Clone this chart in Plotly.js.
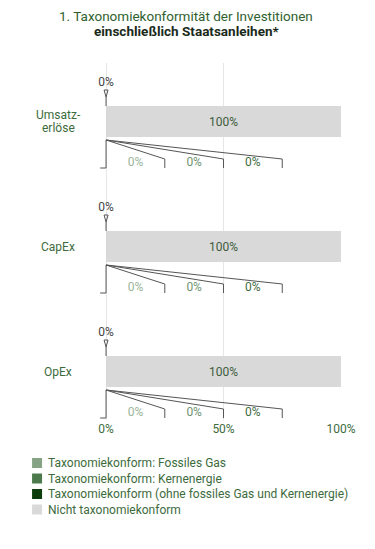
<!DOCTYPE html>
<html>
<head>
<meta charset="utf-8">
<script src="https://cdn.plot.ly/plotly-3.0.1.min.js"></script>
<style>html,body{margin:0;padding:0;background:#fff;}#chart{width:375px;height:549px;}</style>
</head>
<body>
<div id="chart"></div>
<script>
// ---- Data ----
const categories = ['Umsatz-\nerlöse', 'CapEx', 'OpEx'];
const fossilGas = [0, 0, 0];          // Taxonomiekonform: Fossiles Gas
const nuclear = [0, 0, 0];            // Taxonomiekonform: Kernenergie
const otherAligned = [0, 0, 0];       // Taxonomiekonform (ohne fossiles Gas und Kernenergie)
const notAligned = [1, 1, 1];         // Nicht taxonomiekonform
const xTickVals = [0, 0.5, 1];
const xTickText = ['0%', '50%', '100%'];
const seriesNames = [
  'Taxonomiekonform: Fossiles Gas',
  'Taxonomiekonform: Kernenergie',
  'Taxonomiekonform (ohne fossiles Gas und Kernenergie)',
  'Nicht taxonomiekonform'
];
const titleLine1 = '1. Taxonomiekonformität der Investitionen';
const titleLine2 = 'einschließlich Staatsanleihen*';

// ---- Styles / layout ----
const FONT = 'Roboto, "Liberation Sans", Arial, sans-serif';
const GREEN = '#3d6b3d';
const colors = ['#86a386', '#4d7a4d', '#0d3d0d', '#d9d9d9'];
const subLabelColors = ['#9ab59a', '#6f946f', '#3f6b3f'];
const LINE = '#555555';
const pct = v => Math.round(v * 100) + '%';

const X0PX = 106, X1PX = 341, XMIN = -0.03;
const L = X0PX + XMIN * (X1PX - X0PX);
const W = (X1PX - X0PX) * (1 - XMIN);
const T = 63, B = 420, H = B - T;
const UNIT = 125; // px per category step
const CENTER0 = 121.5;
const yTop = (T - CENTER0) / UNIT, yBot = (B - CENTER0) / UNIT;
const u = px => px / UNIT;
const pxX = px => (px - L) / W;
const pxY = py => (B - py) / H;

const yIdx = categories.map((c, i) => i);
const alignedTotal = yIdx.map(i => fossilGas[i] + nuclear[i] + otherAligned[i]);

const traces = [];
// main bars
traces.push({
  type: 'bar', orientation: 'h', y: yIdx, x: alignedTotal, base: yIdx.map(() => 0),
  width: u(31), marker: {color: colors[2]}, textposition: 'none', hoverinfo: 'skip', showlegend: false
});
traces.push({
  type: 'bar', orientation: 'h', y: yIdx, x: notAligned, base: alignedTotal,
  width: u(31), marker: {color: colors[3]},
  text: notAligned.map(pct), textposition: 'inside', insidetextanchor: 'middle',
  textfont: {family: FONT, size: 12, color: '#3d5c3d'}, hoverinfo: 'skip', showlegend: false
});
// breakdown sub-bars (segments 0-25%, 25-50%, 50-75%)
const segStart = [0, 0.25, 0.5];
const subSeries = [fossilGas, nuclear, otherAligned];
subSeries.forEach((s, k) => {
  traces.push({
    type: 'bar', orientation: 'h', y: yIdx.map(i => i + u(42)), x: s.map(v => v * 0.25),
    base: yIdx.map(() => segStart[k]), width: u(9), marker: {color: colors[k]},
    textposition: 'none', hoverinfo: 'skip', showlegend: false
  });
  traces.push({
    type: 'scatter', mode: 'text', y: yIdx.map(i => i + u(41.5)), x: yIdx.map(() => segStart[k] + 0.125),
    text: s.map(pct), textfont: {family: FONT, size: 12, color: subLabelColors[k]},
    hoverinfo: 'skip', showlegend: false, cliponaxis: false
  });
});
// connectors
const cx = [], cy = [];
yIdx.forEach(i => {
  const x0 = alignedTotal[i];
  [0.25, 0.5, 0.75].forEach(e => {
    cx.push(x0, e, e, null); cy.push(i + u(18.5), i + u(37.5), i + u(46.5), null);
  });
  cx.push(x0, x0, null); cy.push(i + u(18.5), i + u(46.5), null);
  cx.push(x0 - 0.025, x0, null); cy.push(i + u(46.5), i + u(46.5), null);
  // callout wedge above the bar
  const d = 2 / 235;
  cx.push(x0 - d, x0, x0 + d, x0 - d, null); cy.push(i + u(-31.5), i + u(-24.5), i + u(-31.5), i + u(-31.5), null);
  cx.push(x0, x0, null); cy.push(i + u(-24.5), i + u(-15.5), null);
});
traces.push({
  type: 'scatter', mode: 'lines', x: cx, y: cy, line: {color: LINE, width: 1},
  hoverinfo: 'skip', showlegend: false
});
// aligned total label above wedge
traces.push({
  type: 'scatter', mode: 'text', x: alignedTotal, y: yIdx.map(i => i + u(-38.5)),
  text: alignedTotal.map(pct), textfont: {family: FONT, size: 12, color: '#444444'},
  hoverinfo: 'skip', showlegend: false, cliponaxis: false
});

const annotations = [
  {xref: 'paper', yref: 'paper', x: pxX(186), y: pxY(16), text: titleLine1, showarrow: false,
   xanchor: 'center', yanchor: 'middle', font: {family: FONT, size: 13.5, color: '#2f5f2f'}},
  {xref: 'paper', yref: 'paper', x: pxX(186), y: pxY(31), text: '<b>' + titleLine2 + '</b>', showarrow: false,
   xanchor: 'center', yanchor: 'middle', font: {family: FONT, size: 13.5, color: '#1a2a1a'}}
];
categories.forEach((c, i) => {
  const lines = c.split('\n');
  lines.forEach((ln, j) => {
    annotations.push({xref: 'paper', yref: 'y', x: pxX(58), y: i + u((j - (lines.length - 1) / 2) * 12.5),
      text: ln, showarrow: false, xanchor: 'center', yanchor: 'middle',
      font: {family: FONT, size: 12, color: GREEN}});
  });
});
const shapes = [];
const legendY = [463, 478.5, 494, 509.5];
seriesNames.forEach((n, k) => {
  shapes.push({type: 'rect', xref: 'paper', yref: 'paper', x0: pxX(32), x1: pxX(42),
    y0: pxY(legendY[k] - 5), y1: pxY(legendY[k] + 5), fillcolor: colors[k], line: {width: 0}});
  annotations.push({xref: 'paper', yref: 'paper', x: pxX(46), y: pxY(legendY[k]), text: n, showarrow: false,
    xanchor: 'left', yanchor: 'middle', font: {family: FONT, size: 12, color: GREEN}});
});

const layout = {
  width: 375, height: 549,
  margin: {l: L, r: 375 - L - W, t: T, b: 549 - B, pad: 0},
  paper_bgcolor: '#ffffff', plot_bgcolor: '#ffffff',
  barmode: 'overlay', showlegend: false,
  xaxis: {range: [XMIN, 1], tickvals: xTickVals, ticktext: xTickText, showgrid: true, gridcolor: '#e6e6e6',
    zeroline: false, showline: false, ticks: '', tickfont: {family: FONT, size: 12, color: GREEN}, fixedrange: true},
  yaxis: {range: [yBot, yTop], showgrid: false, zeroline: false, showline: false, showticklabels: false,
    ticks: '', fixedrange: true},
  annotations: annotations, shapes: shapes,
  font: {family: FONT}
};
Plotly.newPlot('chart', traces, layout, {displayModeBar: false, staticPlot: true});
</script>
</body>
</html>
